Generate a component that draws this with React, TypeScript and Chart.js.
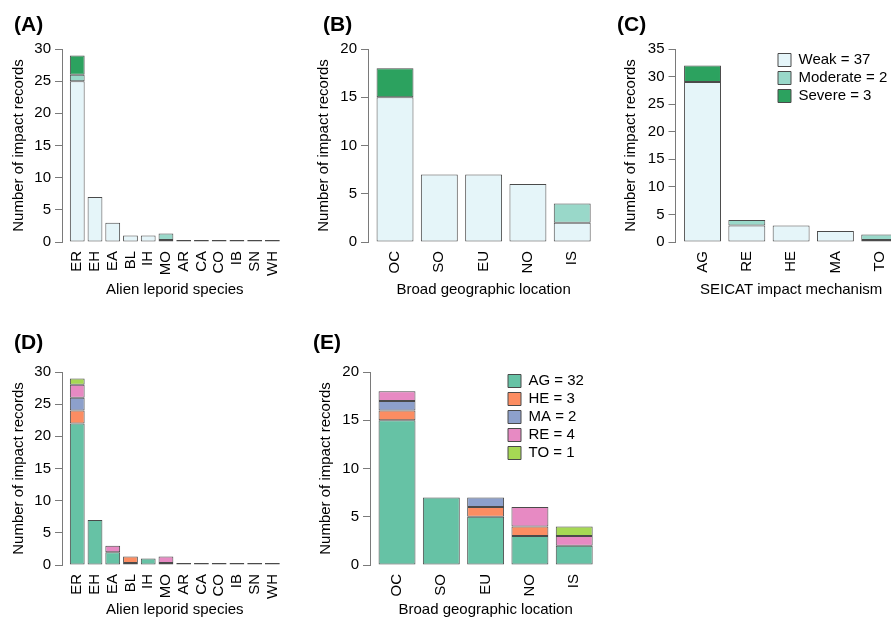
import React, { useEffect, useRef } from "react";
import { Chart, registerables } from "chart.js";

Chart.register(...registerables);

// ---------- data ----------
const speciesLabels = ["ER", "EH", "EA", "BL", "IH", "MO", "AR", "CA", "CO", "IB", "SN", "WH"];
const locationLabels = ["OC", "SO", "EU", "NO", "IS"];
const mechanismLabels = ["AG", "RE", "HE", "MA", "TO"];

const severityNames = ["Weak = 37", "Moderate = 2", "Severe = 3"];
const severityColors = ["#E5F5F9", "#99D8C9", "#2CA25F"];

const speciesWeak = [25, 7, 3, 1, 1, 0, 0, 0, 0, 0, 0, 0];
const speciesModerate = [1, 0, 0, 0, 0, 1, 0, 0, 0, 0, 0, 0];
const speciesSevere = [3, 0, 0, 0, 0, 0, 0, 0, 0, 0, 0, 0];

const locationWeak = [15, 7, 7, 6, 2];
const locationModerate = [0, 0, 0, 0, 2];
const locationSevere = [3, 0, 0, 0, 0];

const mechanismWeak = [29, 3, 3, 2, 0];
const mechanismModerate = [0, 1, 0, 0, 1];
const mechanismSevere = [3, 0, 0, 0, 0];

const mechanismNames = ["AG = 32", "HE = 3", "MA = 2", "RE = 4", "TO = 1"];
const mechanismColors = ["#66C2A5", "#FC8D62", "#8DA0CB", "#E78AC3", "#A6D854"];

const speciesAG = [22, 7, 2, 0, 1, 0, 0, 0, 0, 0, 0, 0];
const speciesHE = [2, 0, 0, 1, 0, 0, 0, 0, 0, 0, 0, 0];
const speciesMA = [2, 0, 0, 0, 0, 0, 0, 0, 0, 0, 0, 0];
const speciesRE = [2, 0, 1, 0, 0, 1, 0, 0, 0, 0, 0, 0];
const speciesTO = [1, 0, 0, 0, 0, 0, 0, 0, 0, 0, 0, 0];

const locationAG = [15, 7, 5, 3, 2];
const locationHE = [1, 0, 1, 1, 0];
const locationMA = [1, 0, 1, 0, 0];
const locationRE = [1, 0, 0, 2, 1];
const locationTO = [0, 0, 0, 0, 1];

const yTitle = "Number of impact records";

// ---------- styling ----------
const FONT = "'Liberation Sans', Arial, Helvetica, sans-serif";
const AXIS_COLOR = "#7a7a7a";
const BAR_BORDER = "#4a4a4a";

type Panel = {
  key: string;
  tag: string;
  tagX: number;
  tagY: number;
  left: number;
  top: number;
  width: number;
  height: number;
  L: number; // y-axis x
  T: number; // top of value axis
  B: number; // zero line
  slot: number;
  xmin: number;
  xmax: number;
  ymax: number;
  labels: string[];
  names: string[];
  colors: string[];
  series: number[][];
  xTitle: string;
  yTitleX: number;
  xTitleY: number;
  legend?: { x: number; y: number };
};

const panels: Panel[] = [
  {
    key: "A", tag: "(A)", tagX: 14, tagY: 13,
    left: 0, top: 0, width: 300, height: 310,
    L: 62, T: 49, B: 242, slot: 18, xmin: -0.86, xmax: 11.86, ymax: 30,
    labels: speciesLabels, names: severityNames, colors: severityColors,
    series: [speciesWeak, speciesModerate, speciesSevere],
    xTitle: "Alien leporid species", yTitleX: 19, xTitleY: 290,
  },
  {
    key: "B", tag: "(B)", tagX: 323, tagY: 13,
    left: 290, top: 0, width: 320, height: 310,
    L: 368, T: 49, B: 242, slot: 44.3, xmin: -0.61, xmax: 4.61, ymax: 20,
    labels: locationLabels, names: severityNames, colors: severityColors,
    series: [locationWeak, locationModerate, locationSevere],
    xTitle: "Broad geographic location", yTitleX: 324, xTitleY: 290,
  },
  {
    key: "C", tag: "(C)", tagX: 617, tagY: 13,
    left: 590, top: 0, width: 330, height: 310,
    L: 675.5, T: 49, B: 242, slot: 44.3, xmin: -0.61, xmax: 4.61, ymax: 35,
    labels: mechanismLabels, names: severityNames, colors: severityColors,
    series: [mechanismWeak, mechanismModerate, mechanismSevere],
    xTitle: "SEICAT impact mechanism", yTitleX: 631, xTitleY: 290,
    legend: { x: 778, y: 60 },
  },
  {
    key: "D", tag: "(D)", tagX: 14, tagY: 331,
    left: 0, top: 310, width: 300, height: 309,
    L: 62, T: 372, B: 565, slot: 18, xmin: -0.86, xmax: 11.86, ymax: 30,
    labels: speciesLabels, names: mechanismNames, colors: mechanismColors,
    series: [speciesAG, speciesHE, speciesMA, speciesRE, speciesTO],
    xTitle: "Alien leporid species", yTitleX: 19, xTitleY: 610,
  },
  {
    key: "E", tag: "(E)", tagX: 313, tagY: 331,
    left: 290, top: 310, width: 320, height: 309,
    L: 370, T: 372, B: 565, slot: 44.3, xmin: -0.61, xmax: 4.61, ymax: 20,
    labels: locationLabels, names: mechanismNames, colors: mechanismColors,
    series: [locationAG, locationHE, locationMA, locationRE, locationTO],
    xTitle: "Broad geographic location", yTitleX: 326, xTitleY: 610,
    legend: { x: 508, y: 381 },
  },
];

function PanelChart({ p }: { p: Panel }) {
  const ref = useRef<HTMLCanvasElement | null>(null);

  useEffect(() => {
    if (!ref.current) return;
    const R = p.L + (p.xmax - p.xmin) * p.slot;
    const padRight = p.left + p.width - R;
    const padTop = p.T - p.top;
    const yScaleWidth = p.L - p.left;
    const xScaleHeight = p.top + p.height - p.B;
    const yTitlePad = p.yTitleX - p.left - 9;
    const xTitlePad = p.top + p.height - p.xTitleY - 9;
    const font = { family: FONT, size: 15 };

    const datasets = p.series.map((arr, si) => ({
      label: p.names[si],
      data: arr.map((v, i) => ({ x: i, y: v })),
      backgroundColor: p.colors[si],
      borderColor: BAR_BORDER,
      borderWidth: 1,
      borderSkipped: false as const,
      minBarLength: si === 0 ? 2 : 0,
      categoryPercentage: 1,
      barPercentage: 1 / 1.2,
    }));

    const legendPos = p.legend;
    const legendMover = {
      id: "legendMover" + p.key,
      afterLayout(chart: any) {
        if (!legendPos || !chart.legend) return;
        const lg = chart.legend;
        const pad = 3;
        const newLeft = legendPos.x - p.left - pad;
        const newTop = legendPos.y - p.top - pad - 7.5;
        const w = lg.width, h = lg.height;
        lg.left = newLeft;
        lg.top = newTop;
        lg.right = newLeft + w;
        lg.bottom = newTop + h;
      },
    };

    const chart = new Chart(ref.current, {
      type: "bar",
      data: { datasets: datasets as any },
      plugins: [legendMover],
      options: {
        animation: false,
        responsive: false,
        maintainAspectRatio: false,
        devicePixelRatio: 1,
        layout: { padding: { left: 0, top: padTop, right: padRight, bottom: 0 } },
        plugins: {
          legend: legendPos
            ? {
                display: true,
                position: "chartArea" as any,
                align: "start",
                labels: {
                  boxWidth: 13,
                  boxHeight: 13,
                  padding: 3,
                  color: "#000",
                  font,
                },
              }
            : { display: false },
          tooltip: { enabled: false },
          title: { display: false },
        },
        scales: {
          x: {
            type: "linear",
            stacked: true,
            min: p.xmin,
            max: p.xmax,
            offset: false,
            grid: { display: false, drawTicks: false },
            border: { display: false },
            ticks: {
              stepSize: 1,
              autoSkip: false,
              includeBounds: false,
              maxRotation: 90,
              minRotation: 90,
              padding: 9,
              color: "#000",
              font,
              callback: (v: any) => {
                const i = Number(v);
                return Number.isInteger(i) && p.labels[i] !== undefined ? p.labels[i] : "";
              },
            },
            title: {
              display: true,
              text: p.xTitle,
              color: "#000",
              font,
              padding: { top: 0, bottom: xTitlePad },
            },
            afterFit: (s: any) => {
              s.height = xScaleHeight;
            },
          } as any,
          y: {
            type: "linear",
            stacked: true,
            min: 0,
            max: p.ymax,
            grid: {
              drawOnChartArea: false,
              drawTicks: true,
              tickLength: 7,
              color: AXIS_COLOR,
              lineWidth: 1,
            },
            border: { display: true, color: AXIS_COLOR, width: 1 },
            ticks: { stepSize: 5, padding: 4, color: "#000", font },
            title: {
              display: true,
              text: yTitle,
              color: "#000",
              font,
              padding: { top: yTitlePad, bottom: 0 },
            },
            afterFit: (s: any) => {
              s.width = yScaleWidth;
            },
          } as any,
        },
      },
    });
    return () => chart.destroy();
  }, [p]);

  return (
    <canvas
      ref={ref}
      width={p.width}
      height={p.height}
      style={{
        position: "absolute",
        left: p.left,
        top: p.top,
        width: p.width,
        height: p.height,
      }}
    />
  );
}

export default function App() {
  return (
    <div
      style={{
        position: "absolute",
        left: 0,
        top: 0,
        width: 891,
        height: 619,
        overflow: "hidden",
        background: "#fff",
      }}
    >
      {panels.map((p) => (
        <PanelChart key={p.key} p={p} />
      ))}
      {panels.map((p) => (
        <div
          key={"tag" + p.key}
          style={{
            position: "absolute",
            left: p.tagX,
            top: p.tagY,
            fontFamily: FONT,
            fontWeight: "bold",
            fontSize: 21,
            lineHeight: "21px",
            color: "#000",
            whiteSpace: "nowrap",
          }}
        >
          {p.tag}
        </div>
      ))}
    </div>
  );
}
